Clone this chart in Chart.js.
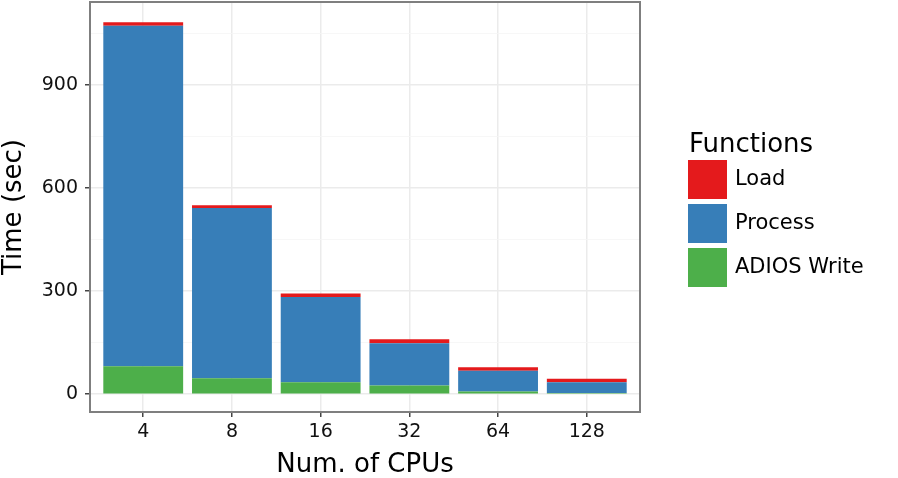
<!DOCTYPE html>
<html>
<head>
<meta charset="utf-8">
<script src="https://cdn.jsdelivr.net/npm/chart.js@4/dist/chart.umd.min.js"></script>
<style>
  html, body { margin: 0; padding: 0; background: #fff; }
  #wrap { width: 898px; height: 478px; }
</style>
</head>
<body>
<div id="wrap"><canvas id="barChart" width="898" height="478"></canvas></div>
<script>
// values (seconds)
let cpus = ['4', '8', '16', '32', '64', '128'];
let adiosWrite = [81, 46, 35, 25, 8, 3];
let processTime = [992, 496, 248, 123, 60, 32];
let loadTime = [10, 8, 10, 12, 10, 10];
let majorTicks = [0, 300, 600, 900];
let minorTicks = [150, 450, 750, 1050];

let font = 'DejaVu Sans';

function points(arr) {
    return arr.map((v, i) => ({ x: i + 1, y: v }));
}

// ggplot-ish panel border + legend on the right
let panelAndLegend = {
    id: 'panelAndLegend',
    afterDatasetsDraw(chart) {
        let c = chart.ctx, a = chart.chartArea;
        c.save();
        c.strokeStyle = '#7f7f7f';
        c.lineWidth = 2;
        c.strokeRect(a.left, a.top, a.right - a.left, a.bottom - a.top);
        c.restore();
    },
    afterDraw(chart) {
        let c = chart.ctx;
        c.save();
        c.fillStyle = '#000';
        c.textBaseline = 'alphabetic';
        c.font = '26px "' + font + '"';
        c.fillText('Functions', 689, 152);
        let items = chart.data.datasets.slice().reverse();
        c.font = '21px "' + font + '"';
        c.textBaseline = 'middle';
        items.forEach((ds, i) => {
            let y = 160 + i * 44;
            c.fillStyle = ds.backgroundColor;
            c.fillRect(688, y, 39, 39);
            c.fillStyle = '#000';
            c.fillText(ds.label, 735, y + 20);
        });
        c.restore();
    }
};

let ctx = document.getElementById('barChart').getContext('2d');

let myBarChart = new Chart(ctx, {
    type: 'bar',
    data: {
        datasets: [
            { label: 'ADIOS Write', data: points(adiosWrite), backgroundColor: '#4DAF4A' },
            { label: 'Process', data: points(processTime), backgroundColor: '#377EB8' },
            { label: 'Load', data: points(loadTime), backgroundColor: '#E41A1C' }
        ]
    },
    plugins: [panelAndLegend],
    options: {
        responsive: false,
        animation: false,
        layout: { padding: { left: 0, top: 2, right: 258, bottom: 0 } },
        datasets: {
            bar: { categoryPercentage: 1, barPercentage: 0.9, borderWidth: 0 }
        },
        plugins: {
            legend: { display: false },
            tooltip: { enabled: false }
        },
        scales: {
            x: {
                type: 'linear',
                stacked: true,
                offset: false,
                min: 0.4,
                max: 6.6,
                afterBuildTicks: (s) => { s.ticks = cpus.map((_, i) => ({ value: i + 1 })); },
                afterFit: (s) => { s.height = 66; s.paddingLeft = 0; s.paddingRight = 0; },
                ticks: {
                    callback: (v) => cpus[v - 1],
                    color: '#111',
                    font: { family: font, size: 19 },
                    padding: 4,
                    maxRotation: 0
                },
                grid: { offset: false, color: '#ebebeb', lineWidth: 1.5, tickColor: '#444', tickLength: 5 },
                border: { display: false },
                title: {
                    display: true,
                    text: 'Num. of CPUs',
                    color: '#000',
                    font: { family: font, size: 26, lineHeight: 1 },
                    padding: 0
                }
            },
            y: {
                stacked: true,
                min: -52,
                max: 1142,
                afterBuildTicks: (s) => {
                    s.ticks = majorTicks.concat(minorTicks).sort((p, q) => p - q).map(v => ({ value: v }));
                },
                afterFit: (s) => { s.width = 90; s.paddingTop = 0; s.paddingBottom = 0; },
                ticks: {
                    callback: (v) => majorTicks.includes(v) ? String(v) : '',
                    color: '#111',
                    font: { family: font, size: 19 },
                    padding: 7
                },
                grid: {
                    color: (c) => majorTicks.includes(c.tick.value) ? '#ebebeb' : '#f5f5f5',
                    lineWidth: (c) => majorTicks.includes(c.tick.value) ? 1.5 : 0.8,
                    tickColor: (c) => majorTicks.includes(c.tick.value) ? '#444' : 'rgba(0,0,0,0)',
                    tickLength: 5
                },
                border: { display: false },
                title: {
                    display: true,
                    text: 'Time (sec)',
                    color: '#000',
                    font: { family: font, size: 26, lineHeight: 1 },
                    padding: { top: 1 }
                }
            }
        }
    }
});
</script>
</body>
</html>
